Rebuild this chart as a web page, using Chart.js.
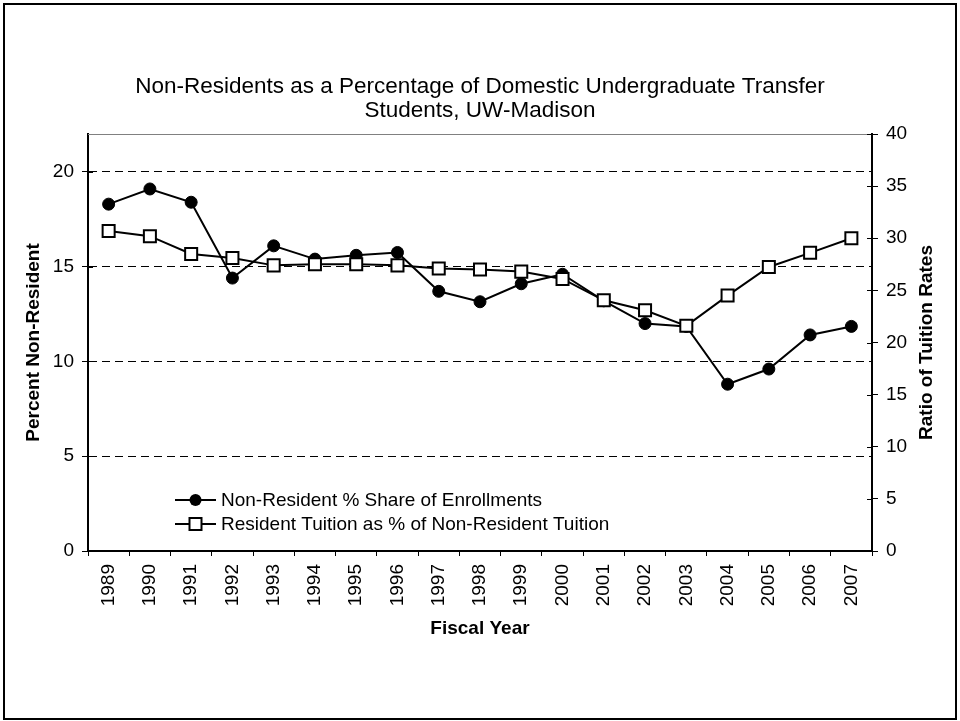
<!DOCTYPE html>
<html>
<head>
<meta charset="utf-8">
<script src="https://cdn.jsdelivr.net/npm/chart.js@4/dist/chart.umd.min.js"></script>
<style>
  html, body { margin: 0; padding: 0; background: #fff; }
  #wrap { width: 960px; height: 721px; position: relative; }
</style>
</head>
<body>
<div id="wrap"><canvas id="grafico" width="960" height="721"></canvas></div>
<script>
const years = ['1989', '1990', '1991', '1992', '1993', '1994', '1995', '1996', '1997', '1998',
  '1999', '2000', '2001', '2002', '2003', '2004', '2005', '2006', '2007']
const nonResidentShare = [18.3, 19.1, 18.4, 14.4, 16.1, 15.4, 15.6, 15.75, 13.7, 13.15,
  14.1, 14.6, 13.2, 12.0, 11.85, 8.8, 9.6, 11.4, 11.85]
const tuitionRatio = [30.7, 30.2, 28.5, 28.1, 27.4, 27.5, 27.5, 27.4, 27.1, 27.0,
  26.8, 26.1, 24.05, 23.1, 21.6, 24.5, 27.25, 28.6, 30.0]
const leftTicks = [0, 5, 10, 15, 20]

const titleLines = ['Non-Residents as a Percentage of Domestic Undergraduate Transfer', 'Students, UW-Madison']
const legendLabels = ['Non-Resident % Share of Enrollments', 'Resident Tuition as % of Non-Resident Tuition']

const FONT = 'Arial, "Liberation Sans", sans-serif'
Chart.defaults.font.family = FONT
Chart.defaults.color = '#000'

// frame, top border, inner tick halves, right axis title and legend
const extras = {
  id: 'extras',
  afterDraw(chart) {
    const ctx = chart.ctx
    const area = chart.chartArea
    ctx.save()
    ctx.strokeStyle = '#808080'
    ctx.lineWidth = 1
    ctx.beginPath()
    ctx.moveTo(area.left, area.top + 0.5)
    ctx.lineTo(area.right, area.top + 0.5)
    ctx.stroke()

    ctx.strokeStyle = '#000'
    ctx.beginPath()
    chart.scales.y.ticks.forEach(t => {
      const py = Math.round(chart.scales.y.getPixelForValue(t.value)) + 0.5
      ctx.moveTo(area.left, py); ctx.lineTo(area.left + 5, py)
    })
    chart.scales.y2.ticks.forEach(t => {
      const py = Math.round(chart.scales.y2.getPixelForValue(t.value)) + 0.5
      ctx.moveTo(area.right - 5, py); ctx.lineTo(area.right, py)
    })
    ctx.stroke()

    ctx.lineWidth = 2
    ctx.strokeRect(4, 4, 952, 715)

    // right axis title, reading bottom to top
    ctx.save()
    ctx.translate(927, (area.top + area.bottom) / 2)
    ctx.rotate(-Math.PI / 2)
    ctx.font = 'bold 19px ' + FONT
    ctx.fillStyle = '#000'
    ctx.textAlign = 'center'
    ctx.textBaseline = 'middle'
    ctx.fillText('Ratio of Tuition Rates', 0, 0)
    ctx.restore()

    // legend inside the plot
    ctx.font = '19px ' + FONT
    ctx.textBaseline = 'middle'
    ctx.textAlign = 'left'
    ctx.fillStyle = '#000'
    const rows = [area.bottom - 51, area.bottom - 27]
    rows.forEach((ry, i) => {
      ctx.lineWidth = 2
      ctx.strokeStyle = '#000'
      ctx.beginPath()
      ctx.moveTo(175, ry); ctx.lineTo(216, ry)
      ctx.stroke()
      if (i === 0) {
        ctx.beginPath()
        ctx.arc(195.5, ry, 6, 0, Math.PI * 2)
        ctx.fillStyle = '#000'
        ctx.fill()
      } else {
        ctx.fillStyle = '#fff'
        ctx.fillRect(189.5, ry - 6, 12, 12)
        ctx.strokeRect(189.5, ry - 6, 12, 12)
      }
      ctx.fillStyle = '#000'
      ctx.fillText(legendLabels[i], 221, ry + 1)
    })
    ctx.restore()
  }
}

const ctx = document.getElementById('grafico').getContext('2d')
const grafico = new Chart(ctx, {
  type: 'line',
  data: {
    labels: years,
    datasets: [{
      label: legendLabels[0],
      data: nonResidentShare,
      yAxisID: 'y',
      order: 2,
      borderColor: '#000',
      borderWidth: 2,
      backgroundColor: '#000',
      pointStyle: 'circle',
      pointRadius: 6,
      pointBackgroundColor: '#000',
      pointBorderColor: '#000',
      pointBorderWidth: 1,
      tension: 0,
      clip: false
    }, {
      label: legendLabels[1],
      data: tuitionRatio,
      yAxisID: 'y2',
      order: 1,
      borderColor: '#000',
      borderWidth: 2,
      backgroundColor: '#fff',
      pointStyle: 'rect',
      pointRadius: 8.5,
      pointBackgroundColor: '#fff',
      pointBorderColor: '#000',
      pointBorderWidth: 2,
      tension: 0,
      clip: false
    }]
  },
  options: {
    responsive: false,
    animation: false,
    events: [],
    layout: { padding: 0 },
    plugins: {
      legend: { display: false },
      tooltip: { enabled: false },
      title: {
        display: true,
        text: titleLines,
        color: '#000',
        font: { size: 22.5, weight: 'normal', lineHeight: 1.067 },
        padding: { top: 75, bottom: 11 }
      }
    },
    scales: {
      x: {
        offset: true,
        afterFit: s => { s.height = 170 },
        grid: { offset: true, drawOnChartArea: false, tickLength: 5, color: '#000', tickColor: '#000' },
        border: { display: true, color: '#000', width: 2 },
        ticks: { minRotation: 90, maxRotation: 90, autoSkip: false, padding: 8, font: { size: 19 }, color: '#000' },
        title: { display: true, text: 'Fiscal Year', font: { size: 19, weight: 'bold' }, color: '#000', padding: { top: 0, bottom: 81 } }
      },
      y: {
        position: 'left',
        min: 0,
        max: 22,
        afterFit: s => { s.width = 88 },
        afterBuildTicks: s => { s.ticks = leftTicks.map(v => ({ value: v })) },
        grid: {
          color: c => (c.tick && c.tick.value === 0) ? 'rgba(0,0,0,0)' : '#000',
          tickColor: '#000',
          lineWidth: 1,
          tickLength: 6
        },
        border: { display: true, color: '#000', width: 2, dash: [8, 5] },
        ticks: { padding: 8, font: { size: 19 }, color: '#000' },
        title: { display: true, text: 'Percent Non-Resident', font: { size: 19, weight: 'bold' }, color: '#000', padding: { top: 22, bottom: 0 } }
      },
      y2: {
        position: 'right',
        min: 0,
        max: 40,
        afterFit: s => { s.width = 88 },
        grid: { drawOnChartArea: false, tickLength: 6, color: '#000', tickColor: '#000' },
        border: { display: true, color: '#000', width: 2 },
        ticks: { stepSize: 5, padding: 8, font: { size: 19 }, color: '#000' }
      }
    }
  },
  plugins: [extras]
})
</script>
</body>
</html>
